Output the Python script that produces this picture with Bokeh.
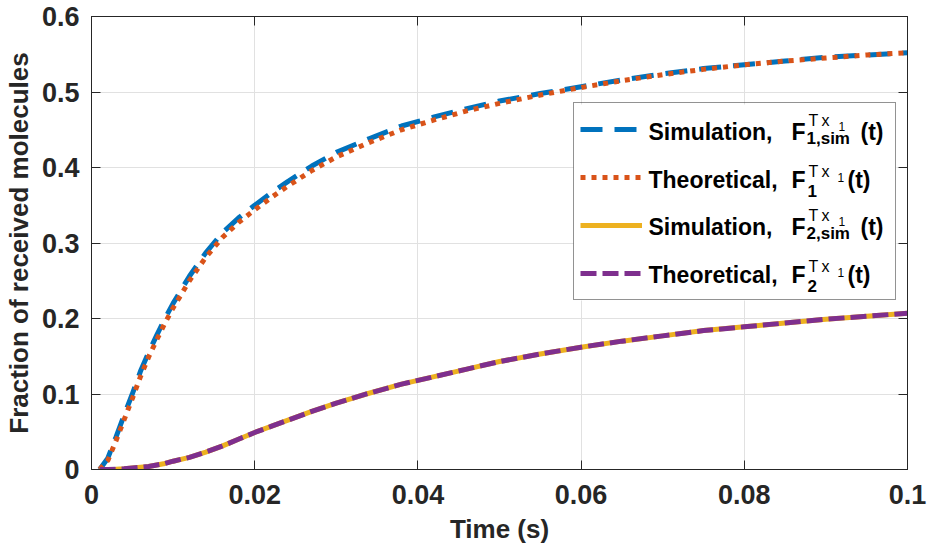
from bokeh.plotting import figure
from bokeh.models import (Range1d, LinearAxis, FixedTicker, Legend, LegendItem, Label,
                          BoxAnnotation)
from bokeh.embed import file_html
from bokeh.resources import INLINE

# ---------------- data ----------------
t = [0.001, 0.002, 0.003, 0.004, 0.005, 0.006, 0.007, 0.008, 0.009, 0.010,
     0.012, 0.014, 0.016, 0.018, 0.020, 0.022, 0.024, 0.027, 0.030, 0.034,
     0.038, 0.042, 0.046, 0.050, 0.055, 0.060, 0.065, 0.070, 0.075, 0.080,
     0.085, 0.090, 0.095, 0.100]

f1_sim = [0.000, 0.015, 0.043, 0.072, 0.100, 0.130, 0.155, 0.178, 0.200, 0.220,
          0.256, 0.287, 0.313, 0.333, 0.350, 0.366, 0.381, 0.402, 0.420, 0.438,
          0.455, 0.467, 0.478, 0.488, 0.498, 0.507, 0.516, 0.524, 0.531, 0.536,
          0.541, 0.546, 0.549, 0.552]

f1_theo = [0.000, 0.012, 0.038, 0.066, 0.094, 0.123, 0.149, 0.172, 0.194, 0.214,
           0.250, 0.281, 0.307, 0.327, 0.344, 0.360, 0.375, 0.396, 0.414, 0.433,
           0.450, 0.463, 0.475, 0.485, 0.496, 0.506, 0.515, 0.523, 0.530, 0.536,
           0.541, 0.545, 0.549, 0.552]

f2_sim = [0.000, 0.000, 0.0003, 0.001, 0.002, 0.003, 0.004, 0.006, 0.008, 0.011,
          0.016, 0.023, 0.031, 0.040, 0.049, 0.057, 0.065, 0.077, 0.088, 0.101,
          0.113, 0.123, 0.133, 0.143, 0.153, 0.162, 0.170, 0.177, 0.184, 0.189,
          0.194, 0.199, 0.203, 0.207]

f2_theo = [0.000, 0.000, 0.0003, 0.001, 0.002, 0.003, 0.004, 0.006, 0.008, 0.011,
           0.016, 0.023, 0.031, 0.040, 0.049, 0.057, 0.065, 0.077, 0.088, 0.101,
           0.113, 0.123, 0.133, 0.143, 0.153, 0.162, 0.170, 0.177, 0.184, 0.189,
           0.194, 0.199, 0.203, 0.207]

x_ticks = [0, 0.02, 0.04, 0.06, 0.08, 0.1]
x_tick_labels = ["0", "0.02", "0.04", "0.06", "0.08", "0.1"]
y_ticks = [0, 0.1, 0.2, 0.3, 0.4, 0.5, 0.6]
y_tick_labels = ["0", "0.1", "0.2", "0.3", "0.4", "0.5", "0.6"]

x_label = "Time (s)"
y_label = "Fraction of received molecules"

# ---------------- styling ----------------
FONT = "Liberation Sans"
AX = "#262626"
C_BLUE, C_ORANGE, C_YELLOW, C_PURPLE = "#0072BD", "#D95319", "#EDB120", "#7E2F8E"

L, R, T, B = 91, 31, 16, 76
W, H = 938, 546

p = figure(width=W, height=H, x_range=Range1d(0, 0.1), y_range=Range1d(0, 0.6),
           output_backend="svg", toolbar_location=None,
           min_border_left=L, min_border_right=R, min_border_top=T, min_border_bottom=B,
           background_fill_color="white", border_fill_color="white")
p.outline_line_color = AX
p.outline_line_width = 1

def style_axis(ax, ticks, labels, show_labels=True):
    ax.ticker = FixedTicker(ticks=ticks)
    ax.major_label_overrides = {float(k): v for k, v in zip(ticks, labels)}
    ax.axis_line_color = AX
    ax.axis_line_width = 1
    ax.major_tick_line_color = AX
    ax.major_tick_in = 9
    ax.major_tick_out = 0
    ax.minor_tick_line_color = None
    if show_labels:
        ax.major_label_text_font = FONT
        ax.major_label_text_font_style = "bold"
        ax.major_label_text_font_size = "27px"
        ax.major_label_text_color = "#262626"
        ax.axis_label_text_font = FONT
        ax.axis_label_text_font_style = "bold"
        ax.axis_label_text_font_size = "26px"
        ax.axis_label_text_color = "#262626"
    else:
        ax.major_label_text_font_size = "0px"
        ax.major_label_standoff = 0

style_axis(p.xaxis[0], x_ticks, x_tick_labels)
style_axis(p.yaxis[0], y_ticks, y_tick_labels)
p.xaxis[0].axis_label = x_label
p.yaxis[0].axis_label = y_label
p.xaxis[0].major_label_standoff = 15
p.xaxis[0].axis_label_standoff = 7
p.yaxis[0].major_label_standoff = 12
p.yaxis[0].axis_label_standoff = 5

top_ax = LinearAxis()
style_axis(top_ax, x_ticks, [""] * len(x_ticks), show_labels=False)
p.add_layout(top_ax, "above")
right_ax = LinearAxis()
style_axis(right_ax, y_ticks, [""] * len(y_ticks), show_labels=False)
p.add_layout(right_ax, "right")

p.xgrid.ticker = FixedTicker(ticks=x_ticks)
p.ygrid.ticker = FixedTicker(ticks=y_ticks)
for g in (p.xgrid[0], p.ygrid[0]):
    g.grid_line_color = "#e1e1e1"
    g.grid_line_width = 1

# ---------------- lines ----------------
r1 = p.line(t, f1_sim, line_color=C_BLUE, line_width=5, line_dash="22 12")
r2 = p.line(t, f1_theo, line_color=C_ORANGE, line_width=5, line_dash="5 6")
r3 = p.line(t, f2_sim, line_color=C_YELLOW, line_width=5)
r4 = p.line(t, f2_theo, line_color=C_PURPLE, line_width=5, line_dash="16 6")

# ---------------- legend (white box, line samples, texts) ----------------
leg_left, leg_top, leg_right, leg_bottom = 573, 105, 896, 301
FB = H - B  # frame bottom in page pixels
p.add_layout(BoxAnnotation(left=leg_left - L, right=leg_right - L,
                           bottom=FB - leg_bottom, top=FB - leg_top,
                           left_units="screen", right_units="screen",
                           bottom_units="screen", top_units="screen",
                           fill_color="white", fill_alpha=1.0, line_color=None,
                           level="annotation"))

legend = Legend(items=[LegendItem(label=" ", renderers=[r]) for r in (r1, r2, r3, r4)],
                location=(leg_left - L, FB - leg_bottom),
                orientation="vertical",
                padding=6, spacing=8, margin=0,
                glyph_width=62, glyph_height=40, label_height=40,
                label_standoff=5, label_width=leg_right - leg_left - 6 - 62 - 5 - 6 - 2,
                border_line_color=AX, border_line_width=1,
                background_fill_alpha=0.0,
                label_text_font_size="22px")
p.add_layout(legend, "center")

DY = -6  # measured offset between requested and drawn baseline

def txt(px, py, s, size, bold=True):
    p.add_layout(Label(x=px - L, y=FB - (py + DY), x_units="screen", y_units="screen",
                       text=s, text_font=FONT, text_font_size=size,
                       text_font_style="bold" if bold else "normal",
                       text_color="black", text_align="left",
                       text_baseline="alphabetic", level="overlay"))

legend_rows = [
    ("Simulation,", "1,sim", 138, True),
    ("Theoretical,", "1", 186, False),
    ("Simulation,", "2,sim", 233, True),
    ("Theoretical,", "2", 281, False),
]
for main, sub, base, is_sim in legend_rows:
    txt(648, base, main, "23px")
    txt(791, base, "F", "23px")
    if is_sim:
        txt(808, base - 11, "T", "16px", bold=False)
        txt(821, base - 11, "x", "16px", bold=False)
        txt(838, base - 5, "1", "12px", bold=False)
        txt(806, base + 7, sub, "17px")
        txt(860, base, "(t)", "23px")
    else:
        txt(808, base - 8, "T", "16px", bold=False)
        txt(821, base - 8, "x", "16px", bold=False)
        txt(837, base - 2, "1", "12px", bold=False)
        txt(807, base + 11, sub, "17px")
        txt(847, base, "(t)", "23px")

open("out.html", "w").write(file_html(p, INLINE))
